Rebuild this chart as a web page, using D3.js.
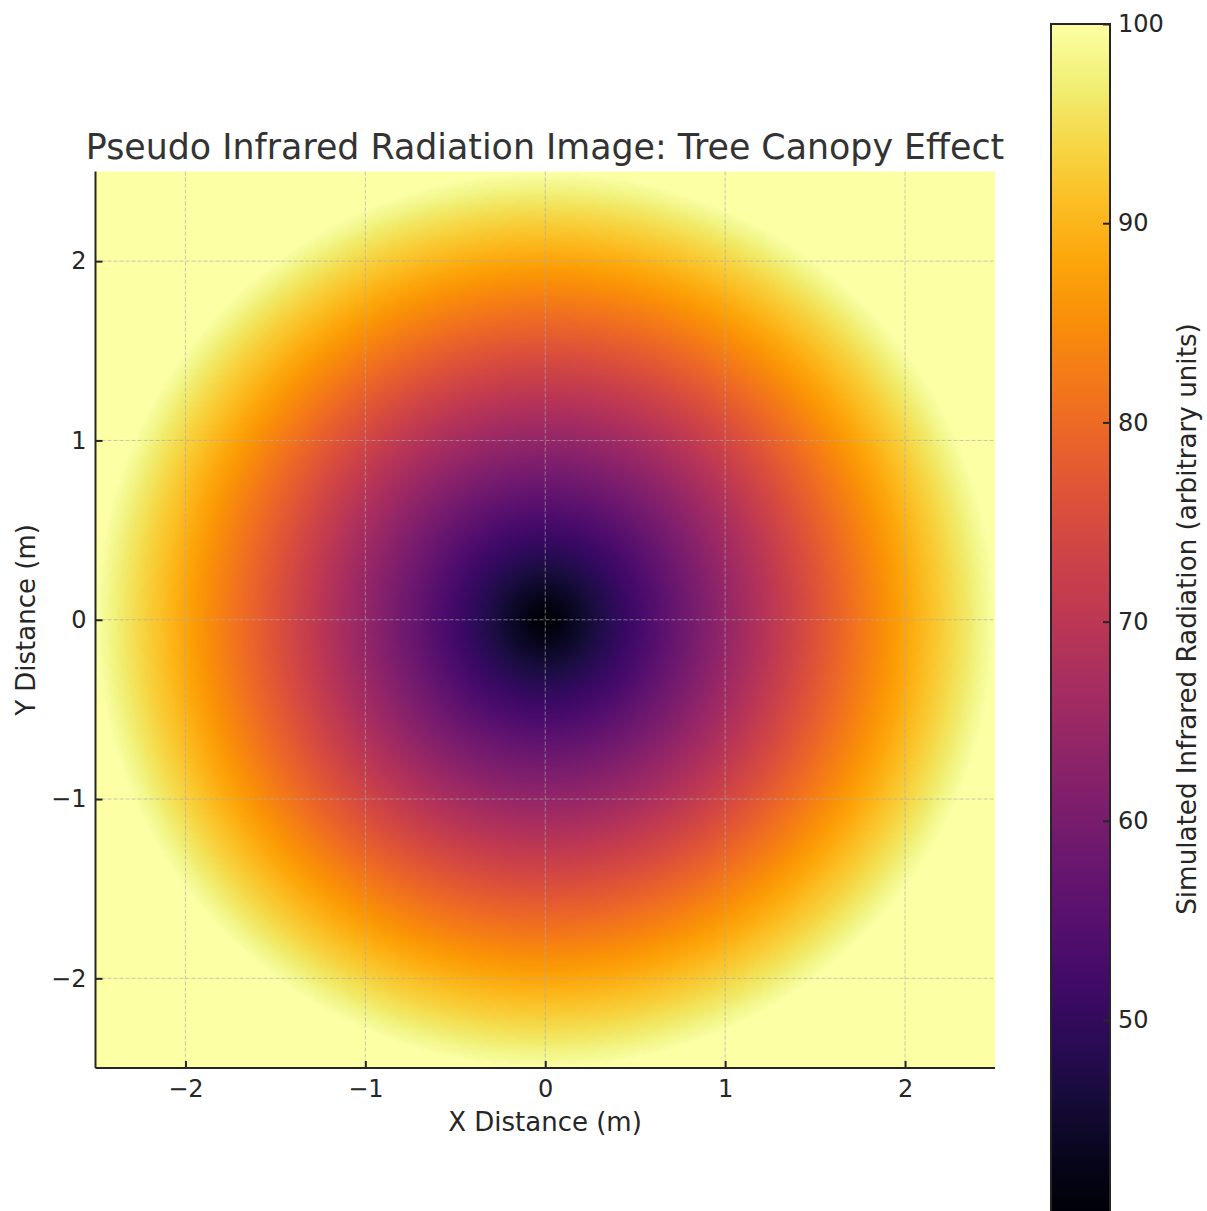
<!DOCTYPE html>
<head>
<meta charset="utf-8">
<title>Pseudo Infrared Radiation Image</title>
<style>
  body { margin: 0; background: #fff; }
  text { font-family: "DejaVu Sans", sans-serif; fill: #262626; }
  .grid line { stroke: #aaa; stroke-opacity: 0.65; stroke-dasharray: 4,2; stroke-width: 1; }
</style>
</head>
<body>
<script src="https://d3js.org/d3.v7.min.js"></script>
<script>

   // Radial profile: distance from centre (m) -> radiation
   var radii  = [0, 0.25, 0.5, 0.75, 1, 1.25, 1.5, 1.75, 2, 2.25, 2.5, 3.6];
   var values = [40, 46, 52, 58, 64, 70, 76, 82, 88, 94, 100, 100];

   var xTicks = [-2, -1, 0, 1, 2];
   var yTicks = [-2, -1, 0, 1, 2];
   var cbTicks = [50, 60, 70, 80, 90, 100];
   var vMin = 40, vMax = 100;

   var width = 1207, height = 1211;
   var plotL = 95.5, plotR = 995, plotT = 171.5, plotB = 1068;

   var svg = d3.select("body").append("svg")
       .attr("width", width)
       .attr("height", height);

   var x = d3.scaleLinear().domain([-2.5, 2.5]).range([plotL, plotR]);
   var y = d3.scaleLinear().domain([-2.5, 2.5]).range([plotB, plotT]);
   var profile = d3.scaleLinear().domain(radii).range(values).clamp(true);
   var color = d3.scaleSequential(d3.interpolateInferno).domain([vMin, vMax]);

   //	Heat image, drawn to a canvas then placed in the svg

   var nx = 450, ny = 450;
   var canvas = document.createElement("canvas");
   canvas.width = nx; canvas.height = ny;
   var ctx = canvas.getContext("2d");
   var img = ctx.createImageData(nx, ny);
   var px = d3.scaleLinear().domain([0, nx]).range([plotL, plotR]);
   var py = d3.scaleLinear().domain([0, ny]).range([plotT, plotB]);
   for (var j = 0; j < ny; j++) {
       for (var i = 0; i < nx; i++) {
           var dx = x.invert(px(i + 0.5)), dy = y.invert(py(j + 0.5));
           var c = d3.rgb(color(profile(Math.sqrt(dx * dx + dy * dy))));
           var k = (j * nx + i) * 4;
           img.data[k] = c.r; img.data[k + 1] = c.g; img.data[k + 2] = c.b; img.data[k + 3] = 255;
       }
   }
   ctx.putImageData(img, 0, 0);

   svg.append("image")
       .attr("x", plotL).attr("y", plotT)
       .attr("width", plotR - plotL).attr("height", plotB - plotT)
       .attr("preserveAspectRatio", "none")
       .attr("href", canvas.toDataURL());

   //	Grid

   var grid = svg.append("g").attr("class", "grid");
   grid.selectAll(".gx").data(xTicks).enter().append("line")
       .attr("x1", function(d) { return x(d); }).attr("x2", function(d) { return x(d); })
       .attr("y1", plotT).attr("y2", plotB);
   grid.selectAll(".gy").data(yTicks).enter().append("line")
       .attr("y1", function(d) { return y(d); }).attr("y2", function(d) { return y(d); })
       .attr("x1", plotL).attr("x2", plotR);

   //	Axes (left and bottom spines, inward ticks)

   var fmt = d3.format("");
   var xAxis = svg.append("g").attr("transform", "translate(0," + plotB + ")")
       .call(d3.axisBottom(x).tickValues(xTicks).tickSize(-7).tickPadding(12).tickFormat(fmt));
   var yAxis = svg.append("g").attr("transform", "translate(" + plotL + ",0)")
       .call(d3.axisLeft(y).tickValues(yTicks).tickSize(-7).tickPadding(9).tickFormat(fmt));

   [xAxis, yAxis].forEach(function(a) {
       a.select(".domain").attr("stroke", "#262626").attr("stroke-width", 2);
       a.selectAll(".tick line").attr("stroke", "#262626").attr("stroke-width", 2);
       a.selectAll("text").attr("font-size", 24).attr("font-family", "DejaVu Sans").attr("fill", "#262626");
   });
   xAxis.select(".domain").attr("d", "M" + plotL + ",0H" + plotR);
   yAxis.select(".domain").attr("d", "M0," + plotT + "V" + plotB);

   //	Labels

   svg.append("text")
       .attr("x", 545).attr("y", 159)
       .attr("text-anchor", "middle")
       .attr("font-size", 34.8)
       .style("fill", "#333")
       .text("Pseudo Infrared Radiation Image: Tree Canopy Effect");

   svg.append("text")
       .attr("x", 545).attr("y", 1131)
       .attr("text-anchor", "middle")
       .attr("font-size", 26)
       .text("X Distance (m)");

   svg.append("text")
       .attr("transform", "translate(35,620) rotate(-90)")
       .attr("text-anchor", "middle")
       .attr("font-size", 26)
       .text("Y Distance (m)");

   //	Colour bar

   var cbX = 1051, cbW = 59, cbTop = 24;
   var cb = d3.scaleLinear().domain([vMin, vMax]).range([cbTop + 60 * 19.92, cbTop]);

   var grad = svg.append("defs").append("linearGradient")
       .attr("id", "cbGrad")
       .attr("x1", 0).attr("y1", 1).attr("x2", 0).attr("y2", 0);
   grad.selectAll("stop")
       .data(d3.range(0, 1.0001, 0.05))
       .enter().append("stop")
       .attr("offset", function(d) { return d; })
       .attr("stop-color", function(d) { return d3.interpolateInferno(d); });

   svg.append("rect")
       .attr("x", cbX).attr("y", cb(vMax))
       .attr("width", cbW).attr("height", cb(vMin) - cb(vMax))
       .attr("fill", "url(#cbGrad)")
       .attr("stroke", "#262626")
       .attr("stroke-width", 2);

   var cbAxis = svg.append("g").attr("transform", "translate(" + (cbX + cbW) + ",0)")
       .call(d3.axisRight(cb).tickValues(cbTicks).tickSize(-7).tickPadding(8));
   cbAxis.select(".domain").remove();
   cbAxis.selectAll(".tick line").attr("stroke", "#262626").attr("stroke-width", 2);
   cbAxis.selectAll("text").attr("font-size", 24).attr("font-family", "DejaVu Sans").attr("fill", "#262626");

   svg.append("text")
       .attr("transform", "translate(1196,619) rotate(-90)")
       .attr("text-anchor", "middle")
       .attr("font-size", 26.2)
       .text("Simulated Infrared Radiation (arbitrary units)");

</script>
</body>
